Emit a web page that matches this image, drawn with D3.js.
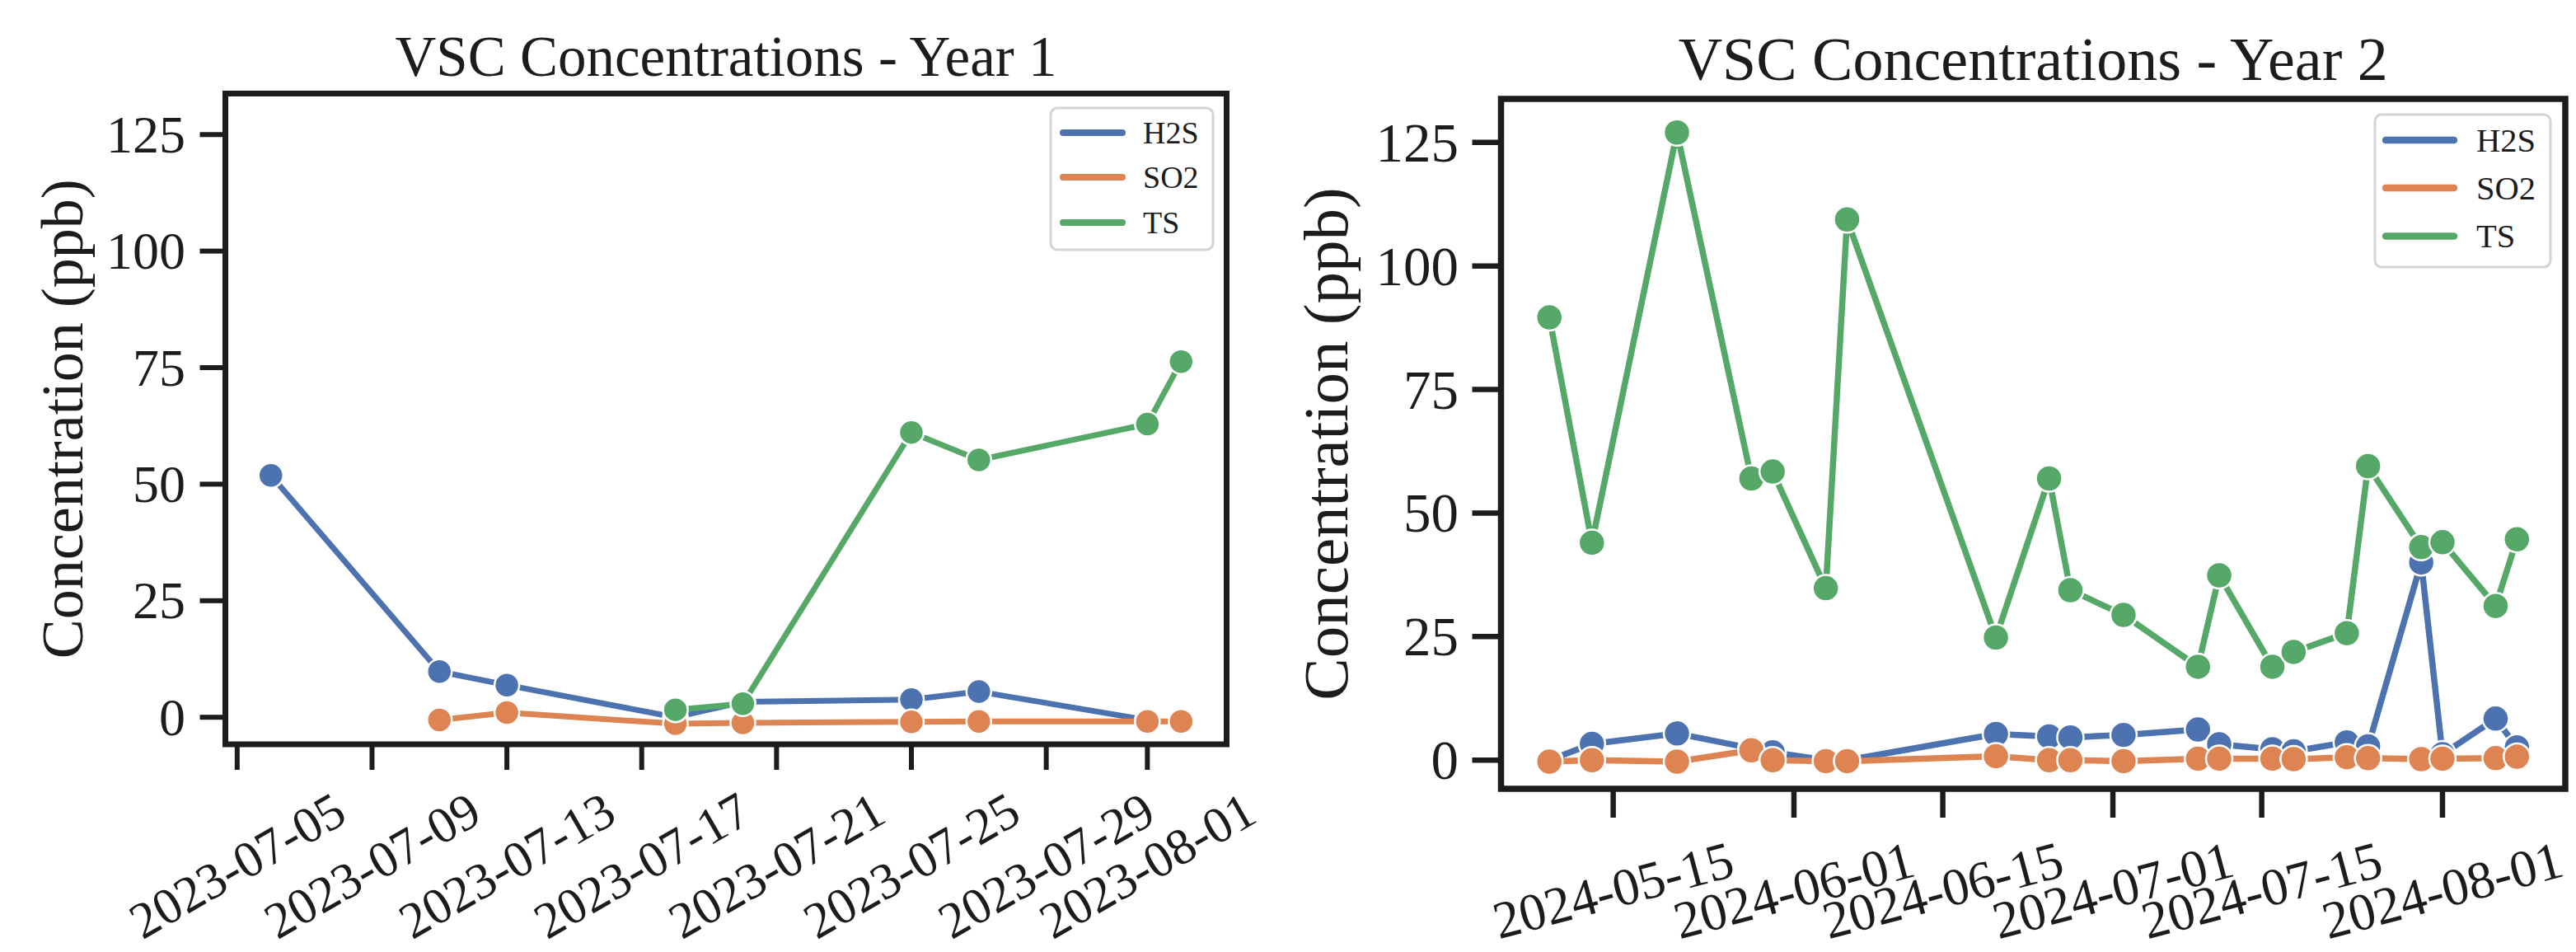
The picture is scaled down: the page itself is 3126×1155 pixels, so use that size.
<!DOCTYPE html>
<html><head><meta charset="utf-8">
<script src="https://cdn.jsdelivr.net/npm/d3@7"></script>
<style>
body{margin:0;background:#fff}
svg{display:block}
text{font-family:"Liberation Serif","DejaVu Serif",serif;fill:#1c1c1c}
</style>
</head><body>
<svg id="c" width="3126" height="1155"></svg>
<script>
// ---------- data ----------
const seriesNames = ["H2S", "SO2", "TS"];
const seriesColors = ["#4c72b0", "#dd8452", "#55a868"];
const yTickValues = [0, 25, 50, 75, 100, 125];
const yDomain = [-5.8, 133.8];

const year1Dates = ["2023-07-06","2023-07-11","2023-07-13","2023-07-18","2023-07-20","2023-07-25","2023-07-27","2023-08-01","2023-08-02"];
const year1H2S = [51.9, 9.8, 6.9, 0.0, 3.3, 3.8, 5.5, -0.6, null];
const year1SO2 = [null, -0.6, 1.0, -1.4, -1.2, -1.0, -0.9, -0.9, -0.9];
const year1TS  = [null, null, null, 1.6, 2.9, 61.1, 55.2, 62.9, 76.3];
const year1TickLabels = ["2023-07-05","2023-07-09","2023-07-13","2023-07-17","2023-07-21","2023-07-25","2023-07-29","2023-08-01"];

const year2Dates = ["2024-05-09","2024-05-13","2024-05-21","2024-05-28","2024-05-30","2024-06-04","2024-06-06","2024-06-20","2024-06-25","2024-06-27","2024-07-02","2024-07-09","2024-07-11","2024-07-16","2024-07-18","2024-07-23","2024-07-25","2024-07-30","2024-08-01","2024-08-06","2024-08-08"];
const year2H2S = [0.0, 3.3, 5.4, 2.4, 1.6, 0.0, 0.0, 5.3, 4.8, 4.6, 5.1, 6.2, 3.2, 2.2, 1.8, 3.6, 2.8, 40.0, 1.2, 8.4, 2.6];
const year2SO2 = [-0.3, 0.0, -0.3, 2.0, 0.0, -0.2, -0.2, 0.8, 0.0, 0.0, -0.2, 0.3, 0.3, 0.3, 0.2, 0.6, 0.4, 0.2, 0.3, 0.4, 0.7];
const year2TS  = [89.6, 44.0, 127.0, 57.0, 58.4, 34.8, 109.4, 24.8, 57.0, 34.4, 29.4, 18.9, 37.4, 18.9, 21.9, 25.7, 59.5, 43.1, 44.1, 31.2, 44.7];
const year2TickLabels = ["2024-05-15","2024-06-01","2024-06-15","2024-07-01","2024-07-15","2024-08-01"];

const titles = ["VSC Concentrations - Year 1", "VSC Concentrations - Year 2"];
const yLabel = "Concentration (ppb)";

// ---------- layout ----------
const layouts = [
  {x0:273.5, x1:1488.5, y0:113.5, y1:903, spineW:7, tickLen:31, tickW:6, yLabRight:225,
   xLabCy:1050, rot:30, titleY:92, titleSize:69, yLabX:100, yLabSize:72, tickSize:64, xTickSize:62,
   leg:{x:1275, y:131, w:197, h:172, rows:[161,215,270], lx0:1290, lx1:1362, tx:1387, size:38},
   lw:7, r:15},
  {x0:1821.5, x1:3113, y0:120, y1:957, spineW:7.5, tickLen:35, tickW:6.5, yLabRight:1770,
   xLabCy:1080, rot:15, titleY:97, titleSize:74, yLabX:1635, yLabSize:77, tickSize:67, xTickSize:64,
   leg:{x:2882, y:139, w:213, h:185, rows:[170,228,286.5], lx0:2895, lx1:2978, tx:3005, size:40.5},
   lw:7.5, r:16}
];

const panelData = [
  {dates:year1Dates, values:[year1H2S, year1SO2, year1TS], ticks:year1TickLabels},
  {dates:year2Dates, values:[year2H2S, year2SO2, year2TS], ticks:year2TickLabels}
];

const parse = d3.utcParse("%Y-%m-%d");
const svg = d3.select("#c");
svg.append("rect").attr("width",3126).attr("height",1155).attr("fill","#fff");

panelData.forEach((pd, pi) => {
  const L = layouts[pi];
  const dates = pd.dates.map(parse);
  const ext = d3.extent(dates);
  const span = ext[1] - ext[0];
  const x = d3.scaleUtc()
    .domain([new Date(+ext[0] - 0.05*span), new Date(+ext[1] + 0.05*span)])
    .range([L.x0, L.x1]);
  const y = d3.scaleLinear().domain(yDomain).range([L.y1, L.y0]);
  const g = svg.append("g");

  // series
  pd.values.forEach((vals, si) => {
    const pts = dates.map((d,i)=>({d, v:vals[i]})).filter(p => p.v !== null);
    const line = d3.line().x(p=>x(p.d)).y(p=>y(p.v));
    g.append("path").attr("d", line(pts)).attr("fill","none")
      .attr("stroke", seriesColors[si]).attr("stroke-width", L.lw)
      .attr("stroke-linejoin","round").attr("stroke-linecap","round");
    g.selectAll(null).data(pts).enter().append("circle")
      .attr("cx", p=>x(p.d)).attr("cy", p=>y(p.v)).attr("r", L.r)
      .attr("fill", seriesColors[si]).attr("stroke","#fff").attr("stroke-width",2.5);
  });

  // y axis ticks + labels
  yTickValues.forEach(t => {
    g.append("line").attr("x1", L.x0 - L.tickLen).attr("x2", L.x0)
      .attr("y1", y(t)).attr("y2", y(t)).attr("stroke","#1c1c1c").attr("stroke-width", L.tickW);
    g.append("text").attr("x", L.yLabRight).attr("y", y(t))
      .attr("text-anchor","end").attr("dominant-baseline","central")
      .attr("font-size", L.tickSize).text(t);
  });

  // x axis ticks + labels
  pd.ticks.forEach(s => {
    const xv = x(parse(s));
    g.append("line").attr("x1", xv).attr("x2", xv)
      .attr("y1", L.y1).attr("y2", L.y1 + L.tickLen).attr("stroke","#1c1c1c").attr("stroke-width", L.tickW);
    g.append("text").attr("transform", `translate(${xv},${L.xLabCy}) rotate(${-L.rot})`)
      .attr("text-anchor","middle").attr("dominant-baseline","central")
      .attr("font-size", L.xTickSize).text(s);
  });

  // frame
  g.append("rect").attr("x", L.x0).attr("y", L.y0)
    .attr("width", L.x1 - L.x0).attr("height", L.y1 - L.y0)
    .attr("fill","none").attr("stroke","#1c1c1c").attr("stroke-width", L.spineW)
    .attr("stroke-linejoin","miter");

  // title
  g.append("text").attr("x", (L.x0 + L.x1)/2).attr("y", L.titleY)
    .attr("text-anchor","middle").attr("font-size", L.titleSize).text(titles[pi]);

  // y label
  g.append("text").attr("transform", `translate(${L.yLabX},${(L.y0+L.y1)/2}) rotate(-90)`)
    .attr("text-anchor","middle").attr("font-size", L.yLabSize).text(yLabel);

  // legend
  const lg = L.leg;
  g.append("rect").attr("x", lg.x).attr("y", lg.y).attr("width", lg.w).attr("height", lg.h)
    .attr("rx", 8).attr("fill","#fff").attr("fill-opacity",0.8)
    .attr("stroke","#d4d4d4").attr("stroke-width",3);
  seriesNames.forEach((n, si) => {
    g.append("line").attr("x1", lg.lx0).attr("x2", lg.lx1)
      .attr("y1", lg.rows[si]).attr("y2", lg.rows[si])
      .attr("stroke", seriesColors[si]).attr("stroke-width", L.lw + 1).attr("stroke-linecap","round");
    g.append("text").attr("x", lg.tx).attr("y", lg.rows[si])
      .attr("dominant-baseline","central").attr("font-size", lg.size).text(n);
  });
});
</script>
</body></html>
